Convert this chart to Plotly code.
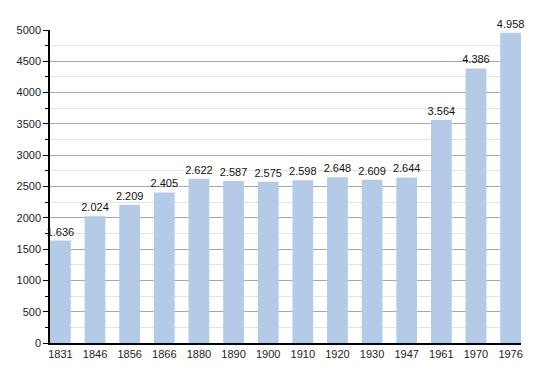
import plotly.graph_objects as go

years = ["1831", "1846", "1856", "1866", "1880", "1890", "1900", "1910", "1920", "1930", "1947", "1961", "1970", "1976"]
population = [1636, 2024, 2209, 2405, 2622, 2587, 2575, 2598, 2648, 2609, 2644, 3564, 4386, 4958]
labels = [f"{v:,}".replace(",", ".") for v in population]
y_ticks = [0, 500, 1000, 1500, 2000, 2500, 3000, 3500, 4000, 4500, 5000]

fig = go.Figure(go.Bar(
    x=list(range(len(years))), y=population,
    text=labels, textposition="outside", cliponaxis=False, constraintext="none",
    textfont=dict(family="Liberation Sans, Arial", size=11, color="#111"),
    marker=dict(color="#b3cbe6", line=dict(width=0)),
    width=0.6,
))

fig.update_layout(
    width=550, height=373,
    margin=dict(l=50, r=29, t=30, b=30),
    paper_bgcolor="white", plot_bgcolor="white",
    showlegend=False,
    font=dict(family="Liberation Sans, Arial", size=11, color="#222"),
    xaxis=dict(
        tickmode="array", tickvals=list(range(len(years))), ticktext=years,
        range=[-0.3, len(years) - 0.7],
        showline=True, linecolor="black", linewidth=1.5,
        showgrid=False, ticks="", zeroline=False,
    ),
    yaxis=dict(
        range=[0, 5000], tickvals=y_ticks,
        showline=True, linecolor="black", linewidth=1.5,
        ticks="outside", ticklen=5, tickcolor="black",
        showgrid=True, gridcolor="#a8a8a8", gridwidth=1,
        zeroline=False, layer="below traces",
        minor=dict(dtick=250, showgrid=True, gridcolor="#e4e4e4", ticks="outside", ticklen=3, tickcolor="black"),
    ),
)

fig.write_html("out.html")
